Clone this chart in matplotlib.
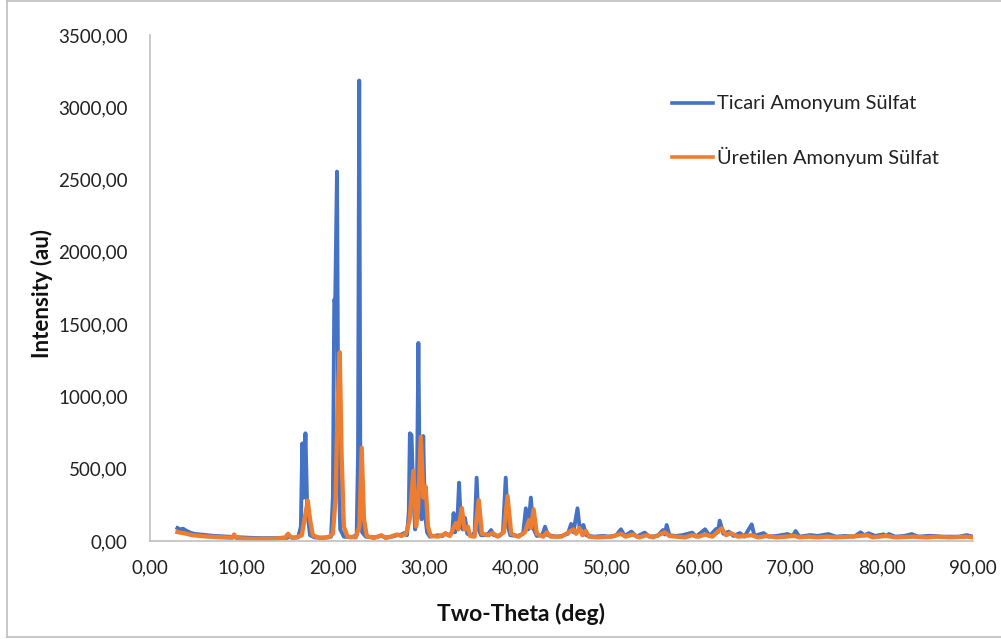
import matplotlib
matplotlib.use("Agg")
import matplotlib.pyplot as plt
from matplotlib.lines import Line2D
from matplotlib.ticker import FuncFormatter

# ---- data ----
ticari_x = [3.0, 3.3, 3.6, 4.0, 4.5, 5.0, 5.5, 6.0, 7.0, 8.0, 9.0, 10.0, 11.0, 12.0, 13.0, 14.0,
            15.0, 15.3, 15.6, 16.2, 16.5, 16.65, 16.8, 17.0, 17.2, 17.5, 18.0, 19.0, 19.8, 20.0,
            20.15, 20.25, 20.45, 20.6, 20.8, 21.2, 22.0, 22.6, 22.75, 22.88, 23.0, 23.2, 23.6,
            24.5, 25.3, 25.7, 26.5, 27.0, 27.5, 27.8, 28.1, 28.3, 28.42, 28.6, 28.8, 29.0, 29.2,
            29.35, 29.5, 29.7, 29.88, 30.05, 30.3, 30.6, 31.5, 32.0, 32.3, 32.7, 33.05, 33.2,
            33.35, 33.6, 33.8, 34.0, 34.2, 34.45, 34.7, 35.2, 35.5, 35.72, 35.95, 36.2, 36.6,
            37.0, 37.3, 37.6, 38.2, 38.6, 38.9, 39.15, 39.4, 40.2, 40.8, 41.1, 41.35, 41.65,
            41.9, 42.3, 42.9, 43.2, 43.5, 44.5, 45.0, 45.7, 46.05, 46.3, 46.75, 47.0, 47.4,
            47.7, 48.5, 49.5, 50.3, 51.0, 51.5, 51.9, 52.65, 53.2, 54.1, 54.6, 55.5, 56.1,
            56.3, 56.5, 56.8, 57.5, 58.2, 59.3, 59.7, 60.7, 61.2, 61.9, 62.1, 62.3, 62.7, 63.3,
            63.8, 64.5, 65.0, 65.8, 66.1, 67.1, 67.6, 68.5, 69.7, 70.3, 70.6, 71.0, 72.2, 73.0,
            74.2, 75.0, 76.0, 77.0, 77.7, 78.1, 78.6, 79.3, 80.2, 80.5, 80.8, 81.5, 82.5, 83.3,
            84.0, 85.0, 85.7, 86.5, 87.5, 88.5, 89.3, 90.0]
ticari_y = [90, 80, 85, 70, 55, 48, 45, 42, 35, 32, 28, 25, 22, 20, 20, 20,
            22, 30, 22, 25, 100, 675, 300, 745, 200, 40, 25, 22, 30, 300,
            1670, 1650, 2555, 600, 80, 30, 25, 40, 600, 3185, 500, 60, 30,
            25, 35, 25, 30, 40, 45, 55, 40, 200, 745, 733, 300, 80, 400,
            1370, 300, 150, 726, 200, 60, 30, 40, 35, 55, 40, 60, 193,
            60, 120, 403, 100, 80, 159, 50, 35, 60, 438, 80, 40, 40,
            50, 76, 40, 35, 60, 438, 100, 40, 35, 50, 226, 80, 300,
            90, 35, 40, 99, 40, 30, 35, 50, 118, 60, 226, 80, 111,
            40, 30, 35, 30, 40, 81, 35, 65, 30, 58, 30, 35, 76,
            45, 111, 40, 35, 40, 58, 30, 81, 35, 83, 60, 141, 50, 65,
            35, 55, 30, 115, 35, 55, 30, 35, 48, 35, 69, 30, 41, 35,
            48, 30, 35, 30, 60, 40, 53, 35, 46, 35, 48, 30, 35, 48,
            30, 35, 35, 30, 30, 30, 41, 30]

uretilen_x = [3.0, 3.3, 3.6, 4.0, 4.5, 5.0, 6.0, 7.0, 8.0, 9.0, 9.2, 9.4, 10.0, 11.0, 12.0, 13.0,
              14.0, 14.8, 15.1, 15.4, 16.0, 16.6, 16.9, 17.25, 17.5, 17.8, 18.5, 19.5, 20.0,
              20.3, 20.5, 20.75, 20.95, 21.2, 21.6, 22.5, 22.9, 23.15, 23.4, 23.7, 24.5, 25.3,
              25.8, 26.3, 27.0, 27.5, 28.0, 28.4, 28.8, 29.1, 29.3, 29.62, 29.9, 30.15, 30.4,
              30.7, 31.5, 32.3, 32.8, 33.45, 33.7, 34.1, 34.4, 34.75, 35.0, 35.5, 35.95, 36.3,
              37.0, 37.5, 38.0, 38.7, 39.1, 39.5, 40.3, 41.0, 41.45, 41.65, 41.95, 42.3, 43.0,
              43.4, 43.8, 45.0, 46.3, 46.6, 46.95, 47.3, 47.65, 48.0, 49.0, 50.5, 51.5, 52.0,
              52.8, 53.5, 54.3, 55.0, 56.3, 56.8, 57.5, 58.5, 59.3, 60.0, 60.7, 61.5, 62.5, 63.0,
              63.5, 64.3, 65.8, 66.5, 67.5, 68.5, 70.5, 71.0, 72.0, 73.0, 74.0, 75.0, 76.5,
              77.5, 78.5, 79.0, 80.5, 81.5, 83.5, 85.0, 86.0, 87.5, 89.3, 90.0]
uretilen_y = [62, 58, 55, 50, 42, 38, 32, 28, 25, 22, 45, 22, 18, 15, 15, 15,
              18, 25, 50, 25, 25, 40, 150, 280, 150, 40, 22, 25, 50,
              300, 900, 1305, 600, 100, 30, 25, 100, 645, 150, 35, 20, 40,
              20, 30, 45, 35, 50, 150, 485, 100, 200, 720, 300, 376, 100,
              35, 30, 50, 35, 124, 80, 228, 80, 99, 35, 30, 283, 50,
              40, 55, 30, 60, 311, 50, 30, 60, 145, 90, 219, 50, 30,
              60, 30, 30, 80, 50, 90, 40, 70, 30, 25, 30, 50, 30,
              45, 25, 40, 25, 60, 35, 30, 25, 40, 30, 45, 30, 88, 40,
              55, 30, 40, 25, 35, 25, 35, 25, 30, 25, 30, 25, 30,
              35, 40, 25, 35, 25, 30, 25, 30, 25, 30, 25]

series_names = ["Ticari Amonyum Sülfat", "Üretilen Amonyum Sülfat"]
series_colors = ["#4472C4", "#ED7D31"]

x_ticks = [0, 10, 20, 30, 40, 50, 60, 70, 80, 90]
y_ticks = [0, 500, 1000, 1500, 2000, 2500, 3000, 3500]

# ---- figure ----
W, H = 1001, 639
fig = plt.figure(figsize=(W / 100, H / 100), dpi=100)
FONT = "Lato"

def fx(px):
    return px / W

def fy(py):
    return 1 - py / H

ax = fig.add_axes([fx(150), fy(541), fx(973) - fx(150), fy(35) - fy(541)])

ax.plot(ticari_x, ticari_y, color=series_colors[0], lw=2.8, solid_joinstyle="round")
ax.plot(uretilen_x, uretilen_y, color=series_colors[1], lw=3.1, solid_joinstyle="round")

ax.set_xlim(0, 90)
ax.set_ylim(0, 3500)
ax.set_xticks(x_ticks)
ax.set_yticks(y_ticks)
fmt = FuncFormatter(lambda v, p: f"{v:.2f}".replace(".", ","))
ax.xaxis.set_major_formatter(fmt)
ax.yaxis.set_major_formatter(fmt)
ax.tick_params(axis="both", length=0, labelsize=13.5, colors="#222222")
ax.tick_params(axis="y", pad=16)
ax.tick_params(axis="x", pad=13)
for lab in ax.get_xticklabels() + ax.get_yticklabels():
    lab.set_fontfamily(FONT)
for s in ["top", "right"]:
    ax.spines[s].set_visible(False)
for s in ["left", "bottom"]:
    ax.spines[s].set_color("#BFBFBF")
    ax.spines[s].set_linewidth(1.2)

fig.text(fx(42), fy(293), "Intensity (au)", rotation=90, ha="center", va="center",
         fontsize=16, fontweight="bold", family=FONT, color="#111111")
fig.text(fx(521), fy(614), "Two-Theta (deg)", ha="center", va="center",
         fontsize=16.5, fontweight="bold", family=FONT, color="#111111")

# legend
for i, (name, col) in enumerate(zip(series_names, series_colors)):
    yy = 103 + i * 54
    fig.add_artist(Line2D([fx(672), fx(713)], [fy(yy), fy(yy)], color=col, lw=2.6, zorder=10))
    fig.text(fx(717), fy(yy), name, ha="left", va="center", fontsize=14.4,
             family=FONT, color="#222222", zorder=10)

# outer border
fig.add_artist(Line2D([fx(7), fx(7)], [fy(1), fy(637)], color="#BFBFBF", lw=1.2))
fig.add_artist(Line2D([fx(7), fx(1001)], [fy(1), fy(1)], color="#BFBFBF", lw=1.2))
fig.add_artist(Line2D([fx(7), fx(1001)], [fy(637), fy(637)], color="#BFBFBF", lw=1.2))

fig.savefig("out.png", dpi=100)
